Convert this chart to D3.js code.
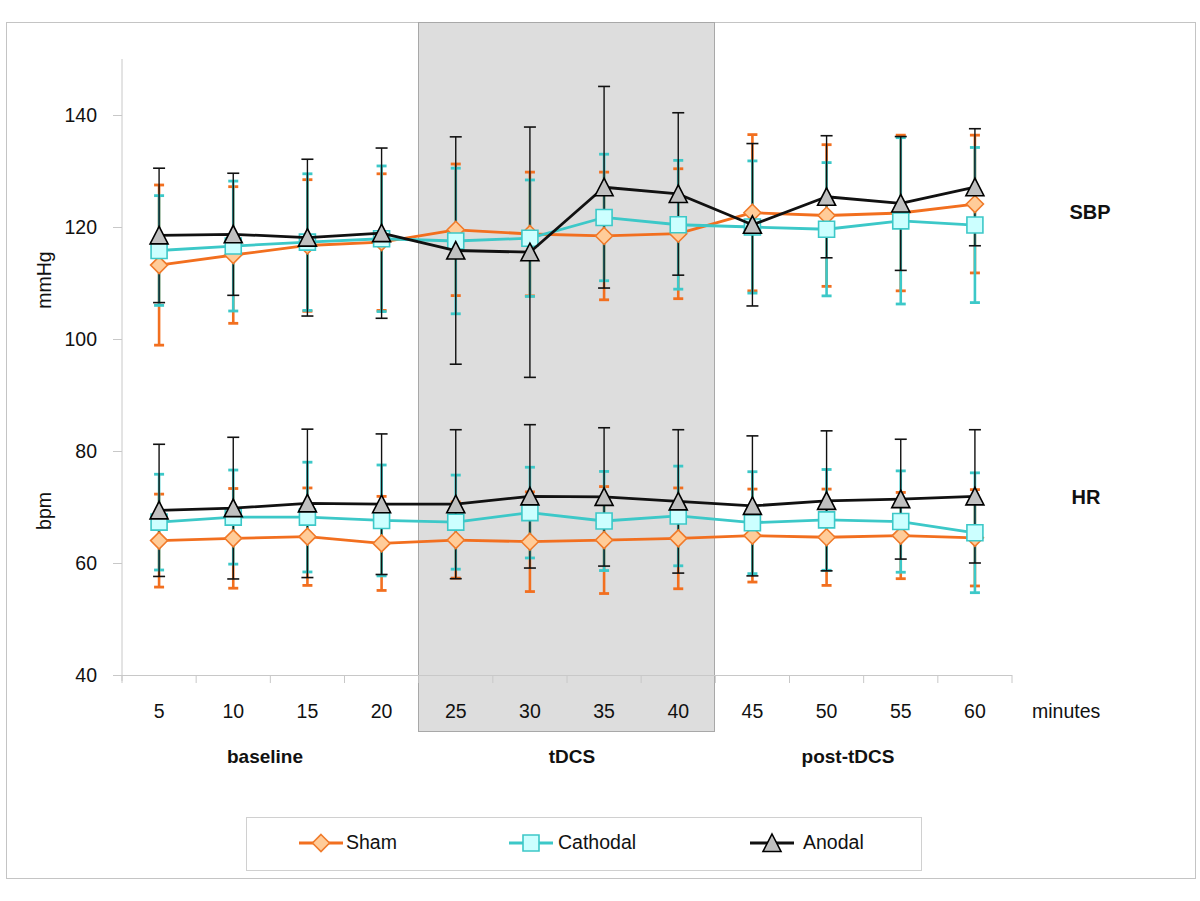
<!DOCTYPE html>
<html>
<head>
<meta charset="utf-8">
<script src="https://cdn.jsdelivr.net/npm/d3@7"></script>
<style>
  html, body { margin: 0; padding: 0; background: #fff; }
  svg { display: block; font-family: "Liberation Sans", Arial, sans-serif; }
</style>
</head>
<body>
<svg id="chart" width="1200" height="901"></svg>
<script>
// ---------------- data ----------------
const categories = ["5","10","15","20","25","30","35","40","45","50","55","60"];
const yTicks = [40, 60, 80, 100, 120, 140];

const shamSBP      = [113.2,115.0,116.7,117.3,119.5,118.75,118.4,118.8,122.55,122.05,122.5,124.1];
const shamSBPsd    = [14.3,12.2,11.75,12.2,11.75,11.05,11.4,11.6,13.95,12.65,13.9,12.3];
const cathodalSBP  = [115.8,116.6,117.3,117.9,117.5,118.0,121.7,120.4,120.0,119.6,121.1,120.35];
const cathodalSBPsd= [9.8,11.6,12.2,13.0,13.0,10.4,11.3,11.5,11.8,11.9,14.85,13.85];
const anodalSBP    = [118.5,118.7,118.1,118.9,115.8,115.5,127.1,125.9,120.4,125.4,124.2,127.1];
const anodalSBPsd  = [12.0,10.9,14.0,15.2,20.3,22.35,18.0,14.5,14.5,10.9,11.95,10.45];

const shamHR       = [64.0,64.4,64.7,63.5,64.1,63.8,64.1,64.4,64.9,64.6,64.9,64.5];
const shamHRsd     = [8.3,8.9,8.7,8.4,6.8,8.9,9.55,9.0,8.3,8.6,7.7,8.6];
const cathodalHR   = [67.3,68.2,68.2,67.6,67.3,69.0,67.5,68.4,67.2,67.7,67.4,65.4];
const cathodalHRsd = [8.55,8.4,9.8,9.9,8.4,8.1,8.85,8.9,9.1,9.0,9.05,10.7];
const anodalHR     = [69.4,69.8,70.65,70.5,70.5,71.9,71.8,71.0,70.2,71.1,71.4,71.9];
const anodalHRsd   = [11.8,12.65,13.25,12.55,13.3,12.8,12.35,12.8,12.5,12.5,10.7,11.9];

const seriesNames = ["Sham","Cathodal","Anodal"];
const phaseLabels = ["baseline","tDCS","post-tDCS"];
const shadedFrom = "25", shadedTo = "40";

// ---------------- styles ----------------
const styles = {
  Sham:     { line: "#f26f1f", fill: "#ffcc99", stroke: "#f07a2a", bar: "#f26f1f", shape: "diamond", barW: 2.6, capW: 10 },
  Cathodal: { line: "#3cc8c8", fill: "#ccffff", stroke: "#3cc8c8", bar: "#3cc8c8", shape: "square", barW: 2.6, capW: 10 },
  Anodal:   { line: "#111111", fill: "#c0c0c0", stroke: "#000000", bar: "#111111", shape: "triangle", barW: 1.4, capW: 12 }
};
const shapes = {
  diamond: "M0,-8.5L8.5,0L0,8.5L-8.5,0Z",
  square: "M-8,-8H8V8H-8Z",
  triangle: "M0,-9L9,8.5H-9Z"
};

const groups = [
  { name: "Sham",     sbp: shamSBP,     sbpSd: shamSBPsd,     hr: shamHR,     hrSd: shamHRsd },
  { name: "Cathodal", sbp: cathodalSBP, sbpSd: cathodalSBPsd, hr: cathodalHR, hrSd: cathodalHRsd },
  { name: "Anodal",   sbp: anodalSBP,   sbpSd: anodalSBPsd,   hr: anodalHR,   hrSd: anodalHRsd }
];

// ---------------- scales ----------------
const svg = d3.select("#chart");
const x = d3.scaleBand().domain(categories).range([122, 1012]).padding(0);
const cx = c => x(c) + x.bandwidth() / 2;
const y = d3.scaleLinear().domain([40, 150]).range([675, 59]);

// outer frame
svg.append("rect").attr("x", 6.5).attr("y", 22.5).attr("width", 1189).attr("height", 856)
  .attr("fill", "#fff").attr("stroke", "#c4c4c4").attr("stroke-width", 1);

// shaded tDCS block
svg.append("rect")
  .attr("x", Math.round(x(shadedFrom)) - 0.5).attr("y", 22.5)
  .attr("width", Math.round(x(shadedTo) + x.bandwidth() - x(shadedFrom)) - 1)
  .attr("height", 709)
  .attr("fill", "#dddddd").attr("stroke", "#a8a8a8").attr("stroke-width", 1);

// axes
const axisColor = "#c8c8c8";
const yAxis = d3.axisLeft(y).tickValues(yTicks).tickSize(9).tickFormat(d => d);
const gy = svg.append("g").attr("transform", "translate(122,0)").call(yAxis);
gy.select(".domain").attr("stroke", axisColor).attr("d", `M0,${y(150)}V${y(40) + 6}`);
gy.selectAll(".tick line").attr("stroke", axisColor);
gy.selectAll(".tick text").attr("x", -25).attr("fill", "#111").style("font-size", "19.5px")
  .style("font-family", "Liberation Sans, Arial, sans-serif");

const gx = svg.append("g").attr("transform", `translate(0,${y(40)})`);
gx.append("line").attr("x1", 116).attr("x2", x.range()[1]).attr("y1", 0.5).attr("y2", 0.5)
  .attr("stroke", axisColor);
const boundaries = categories.map(c => x(c)).concat([x.range()[1]]);
gx.selectAll("line.tk").data(boundaries).enter().append("line").attr("class", "tk")
  .attr("x1", d => d).attr("x2", d => d).attr("y1", 0).attr("y2", 8).attr("stroke", axisColor);
gx.selectAll("text.cat").data(categories).enter().append("text").attr("class", "cat")
  .attr("x", d => cx(d)).attr("y", 43).attr("text-anchor", "middle")
  .attr("fill", "#111").style("font-size", "19.5px").text(d => d);
svg.append("text").attr("x", 1032).attr("y", 718).attr("fill", "#111")
  .style("font-size", "19.5px").text("minutes");

// phase labels
const phasePos = [265, 572, 848];
svg.selectAll("text.phase").data(phaseLabels).enter().append("text").attr("class", "phase")
  .attr("x", (d, i) => phasePos[i]).attr("y", 763).attr("text-anchor", "middle")
  .attr("fill", "#111").style("font-size", "19px").style("font-weight", "bold").text(d => d);

// axis titles
svg.append("text").attr("transform", "translate(51,280) rotate(-90)").attr("text-anchor", "middle")
  .attr("fill", "#111").style("font-size", "19.5px").text("mmHg");
svg.append("text").attr("transform", "translate(51,511) rotate(-90)").attr("text-anchor", "middle")
  .attr("fill", "#111").style("font-size", "19.5px").text("bpm");

// panel labels
svg.append("text").attr("x", 1090).attr("y", 219).attr("text-anchor", "middle")
  .attr("fill", "#111").style("font-size", "20px").style("font-weight", "bold").text("SBP");
svg.append("text").attr("x", 1086).attr("y", 504).attr("text-anchor", "middle")
  .attr("fill", "#111").style("font-size", "20px").style("font-weight", "bold").text("HR");

// ---------------- error bars ----------------
const measures = [["sbp","sbpSd"],["hr","hrSd"]];
const ebLayer = svg.append("g");
groups.forEach(g => {
  const st = styles[g.name];
  measures.forEach(([m, s]) => {
    const pts = categories.map((c, i) => ({ c, v: g[m][i], sd: g[s][i] }));
    const eg = ebLayer.append("g");
    eg.selectAll("line.stem").data(pts).enter().append("line")
      .attr("x1", d => cx(d.c)).attr("x2", d => cx(d.c))
      .attr("y1", d => y(d.v + d.sd)).attr("y2", d => y(d.v - d.sd))
      .attr("stroke", st.bar).attr("stroke-width", st.barW);
    ["+","-"].forEach(sign => {
      eg.selectAll("line.cap" + (sign === "+" ? "u" : "d")).data(pts).enter().append("line")
        .attr("x1", d => cx(d.c) - st.capW / 2).attr("x2", d => cx(d.c) + st.capW / 2)
        .attr("y1", d => y(sign === "+" ? d.v + d.sd : d.v - d.sd))
        .attr("y2", d => y(sign === "+" ? d.v + d.sd : d.v - d.sd))
        .attr("stroke", st.bar).attr("stroke-width", g.name === "Anodal" ? 1.6 : 2.8);
    });
  });
});

// ---------------- lines & markers ----------------
const line = d3.line().x(d => cx(d.c)).y(d => y(d.v));
groups.forEach(g => {
  const st = styles[g.name];
  measures.forEach(([m]) => {
    const pts = categories.map((c, i) => ({ c, v: g[m][i] }));
    svg.append("path").datum(pts).attr("d", line).attr("fill", "none")
      .attr("stroke", st.line).attr("stroke-width", 2.8).attr("stroke-linejoin", "round");
    svg.append("g").selectAll("path").data(pts).enter().append("path")
      .attr("d", shapes[st.shape])
      .attr("transform", d => `translate(${cx(d.c)},${y(d.v)})`)
      .attr("fill", st.fill).attr("stroke", st.stroke).attr("stroke-width", 1.6);
  });
});

// ---------------- legend ----------------
const legend = svg.append("g");
legend.append("rect").attr("x", 246.5).attr("y", 817.5).attr("width", 675).attr("height", 53)
  .attr("fill", "#fff").attr("stroke", "#d0d0d0");
const legendX = [321, 531, 772];
const legendTextX = [346, 558, 803];
seriesNames.forEach((n, i) => {
  const st = styles[n];
  legend.append("line").attr("x1", legendX[i] - 22).attr("x2", legendX[i] + 22)
    .attr("y1", 843).attr("y2", 843).attr("stroke", st.line).attr("stroke-width", 2.8);
  legend.append("path").attr("d", shapes[st.shape])
    .attr("transform", `translate(${legendX[i]},843)`)
    .attr("fill", st.fill).attr("stroke", st.stroke).attr("stroke-width", 1.6);
  legend.append("text").attr("x", legendTextX[i]).attr("y", 849).attr("fill", "#111")
    .style("font-size", "19.5px").text(n);
});
</script>
</body>
</html>
